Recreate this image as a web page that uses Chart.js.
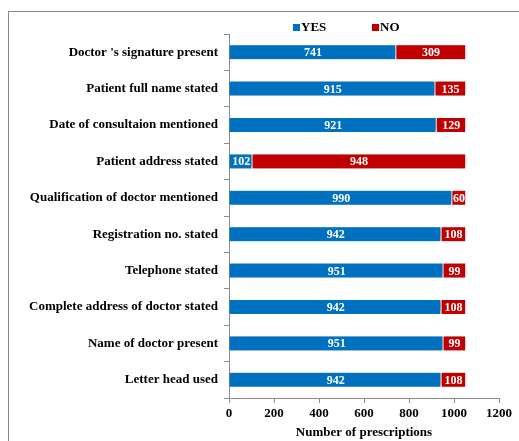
<!DOCTYPE html>
<html><head><meta charset="utf-8">
<script src="https://cdn.jsdelivr.net/npm/chart.js@4.4.1/dist/chart.umd.min.js"></script>
<style>html,body{margin:0;padding:0;background:#fff;}#wrap{position:relative;width:519px;height:441px;}</style>
</head><body>
<div id="wrap"><canvas id="c" width="519" height="441"></canvas></div>
<script>
const categories = ["Doctor 's signature present","Patient full name stated","Date of consultaion mentioned","Patient address stated","Qualification of doctor mentioned","Registration no. stated","Telephone stated","Complete address of doctor stated","Name of doctor present","Letter head used"];
const yesValues = [741,915,921,102,990,942,951,942,951,942];
const noValues = [309,135,129,948,60,108,99,108,99,108];
const seriesNames = ["YES","NO"];
const xTicks = [0,200,400,600,800,1000,1200];
const xTitle = "Number of prescriptions";

const FONT = "'Liberation Serif','Times New Roman',serif";
const BLUE = "#0070C0", RED = "#C00000", AXIS = "#8c8c8c";

const framePlugin = {
  id:'frame',
  beforeDraw(chart){
    const c = chart.ctx; c.save();
    c.strokeStyle = "#8a8a8a"; c.lineWidth = 1;
    c.strokeRect(8.5, 11.5, 700, 600);
    c.restore();
  }
};
const shadowPlugin = {
  id:'shadow',
  beforeDatasetsDraw(chart){
    const c = chart.ctx; c.save();
    c.shadowColor = "rgba(0,0,0,0.4)"; c.shadowBlur = 5; c.shadowOffsetX = 2; c.shadowOffsetY = -1;
  },
  afterDatasetsDraw(chart){ chart.ctx.restore(); }
};
const labelPlugin = {
  id:'vals',
  afterDatasetsDraw(chart){
    const c = chart.ctx; c.save();
    c.font = "bold 12px " + FONT; c.fillStyle = "#fff"; c.textAlign = "center"; c.textBaseline = "middle";
    chart.data.datasets.forEach((ds, di) => {
      chart.getDatasetMeta(di).data.forEach((el, i) => {
        const p = el.getProps(['x','y','base'], true);
        c.fillText(String(ds.data[i]), (p.x + p.base)/2 + 0.5, p.y + 1);
      });
    });
    c.restore();
  }
};
const legendPlugin = {
  id:'customLegend',
  afterDraw(chart){
    const c = chart.ctx; c.save();
    c.font = "bold 13px " + FONT; c.textBaseline = "middle"; c.fillStyle = "#000";
    const pos = [293, 372];
    chart.data.datasets.forEach((ds, i) => {
      c.fillStyle = ds.backgroundColor; c.fillRect(pos[i], 24, 7, 7);
      c.fillStyle = "#000"; c.fillText(ds.label, pos[i] + 8, 28);
    });
    c.restore();
  }
};

new Chart(document.getElementById('c'), {
  type:'bar',
  data:{
    labels: categories,
    datasets:[
      {label: seriesNames[0], data: yesValues, backgroundColor: BLUE, borderColor:"#fff", borderWidth:{top:0,bottom:0,left:0,right:1}, barThickness:14, borderSkipped:false},
      {label: seriesNames[1], data: noValues, backgroundColor: RED, borderColor:"#fff", borderWidth:{top:0,bottom:0,left:1,right:0}, barThickness:14, borderSkipped:false}
    ]
  },
  options:{
    indexAxis:'y', responsive:false, animation:false,
    layout:{padding:{top:34,right:20,left:0,bottom:0}},
    plugins:{legend:{display:false}, tooltip:{enabled:false}},
    scales:{
      x:{
        stacked:true, min:0, max:1200,
        afterBuildTicks(s){ s.ticks = xTicks.map(v=>({value:v})); },
        grid:{display:true, drawOnChartArea:false, drawTicks:true, tickLength:5, color:AXIS},
        border:{display:true, color:AXIS, width:1},
        ticks:{color:"#000", font:{family:FONT, size:13, weight:'bold'}, padding:3, maxRotation:0, callback:(v)=>String(v)},
        title:{display:true, text:xTitle, color:"#000", font:{family:FONT, size:13, weight:'bold'}, padding:{top:4,bottom:1}},
        afterFit(s){ s.height = 43; }
      },
      y:{
        stacked:true,
        grid:{display:true, drawOnChartArea:false, drawTicks:true, tickLength:5, color:AXIS, offset:true},
        border:{display:true, color:AXIS, width:1},
        ticks:{color:"#000", font:{family:FONT, size:13, weight:'bold'}, padding:6, autoSkip:false},
        afterFit(s){ s.width = 229; }
      }
    }
  },
  plugins:[framePlugin, shadowPlugin, labelPlugin, legendPlugin]
});
</script>
</body></html>
